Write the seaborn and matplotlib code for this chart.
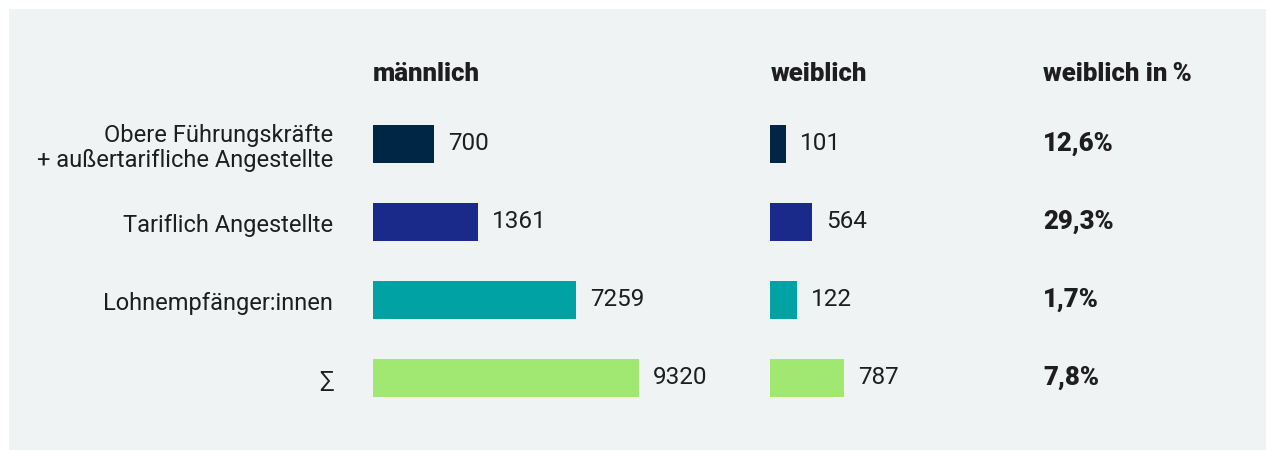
import numpy as np
import pandas as pd
import matplotlib.pyplot as plt
import seaborn as sns
from matplotlib.patches import Rectangle

# data
categories = ["Obere Führungskräfte\n+ außertarifliche Angestellte",
              "Tariflich Angestellte", "Lohnempfänger:innen", "\u2211"]
male = [700, 1361, 7259, 9320]
female = [101, 564, 122, 787]
female_pct = ["12,6%", "29,3%", "1,7%", "7,8%"]
# bar lengths as drawn in the picture (not proportional to the counts)
male_drawn = [61, 105, 203, 266]
female_drawn = [16, 42, 27, 74]
headers = ["männlich", "weiblich", "weiblich in\u2009%"]
colors = ["#002646", "#1a2a8a", "#00a2a3", "#a0e872"]

sns.set_theme(style="white")
plt.rcParams['font.family'] = ['Roboto', 'DejaVu Sans']

W, H = 1266, 450
fig = plt.figure(figsize=(W / 100, H / 100), dpi=100)
fig.patch.set_facecolor("white")
fig.patches.append(Rectangle((9 / W, 0), 1 - 9 / W, 1 - 9 / H,
                             transform=fig.transFigure, facecolor="#eff3f4",
                             edgecolor="none", zorder=-1))

df = pd.DataFrame({"cat": categories, "m": male_drawn, "f": female_drawn})

# axes in pixel units: 1 x-unit = 1 px, rows 78 px apart
row = 78
top_px = 144 - row / 2
bottom = 1 - (top_px + 4 * row) / H
height = 4 * row / H
ax_m = fig.add_axes([373 / W, bottom, 380 / W, height])
ax_f = fig.add_axes([770 / W, bottom, 480 / W, height])

for ax, col in [(ax_m, "m"), (ax_f, "f")]:
    sns.barplot(data=df, x=col, y="cat", hue="cat", palette=colors,
                orient="h", width=38 / row, saturation=1, legend=False,
                linewidth=0, ax=ax)
    ax.set_xlim(0, 380 if ax is ax_m else 480)
    ax.set_ylim(3.5, -0.5)
    ax.set_axis_off()

txt = "#1e1e1e"
for i, cat in enumerate(categories):
    ax_m.text(-40, i + 0.05, cat, ha="right", va="center", fontsize=17,
              color=txt, linespacing=1.12)
    ax_m.text(male_drawn[i] + 14, i, str(male[i]), ha="left", va="center",
              fontsize=17.5, color=txt)
    ax_f.text(female_drawn[i] + 14, i, str(female[i]), ha="left", va="center",
              fontsize=17.5, color=txt)
    ax_f.text(273, i, female_pct[i], ha="left", va="center",
              fontsize=18.5, fontweight="heavy", color=txt)

for x_px, h in zip([373, 771, 1043], headers):
    fig.text(x_px / W, 1 - 74 / H, h, ha="left", va="center",
             fontsize=18.5, fontweight="heavy", color=txt)

fig.savefig("out.png", dpi=100, facecolor=fig.get_facecolor())
